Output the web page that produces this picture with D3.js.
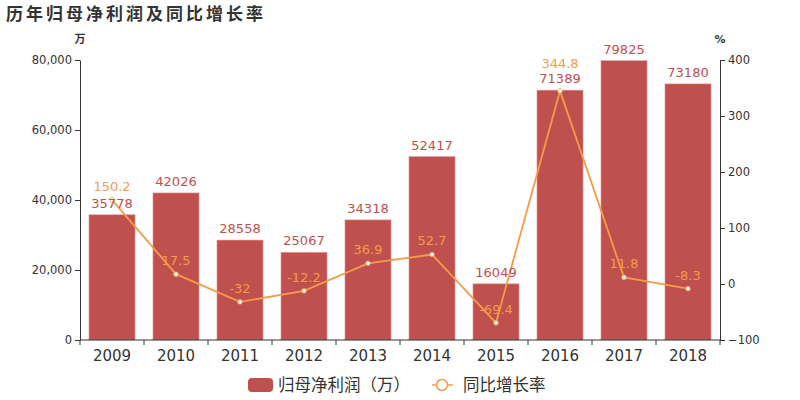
<!DOCTYPE html>
<html><head><meta charset="utf-8">
<script src="https://cdn.jsdelivr.net/npm/d3@7"></script>
<style>body{margin:0;background:#fff}svg{display:block}text{font-family:"DejaVu Sans","Noto Sans CJK SC",sans-serif}</style>
</head><body><svg id="c" width="800" height="400"></svg>
<script>
const years = ["2009","2010","2011","2012","2013","2014","2015","2016","2017","2018"];
const profit = [35778,42026,28558,25067,34318,52417,16049,71389,79825,73180];
const growth = [150.2,17.5,-32,-12.2,36.9,52.7,-69.4,344.8,11.8,-8.3];
const leftTicks = [0,20000,40000,60000,80000];
const rightTicks = [-100,0,100,200,300,400];

const svg = d3.select("#c");
const L=80,R=720,T=60,B=340;
const x = d3.scaleBand().domain(years).range([L,R]).paddingInner(0.28).paddingOuter(0.14);
const yL = d3.scaleLinear().domain([0,80000]).range([B,T]);
const yR = d3.scaleLinear().domain([-100,400]).range([B,T]);
const barColor="#c0504d", lineColor="#f39c4a";

svg.append("text").attr("x",6).attr("y",20).attr("font-size",17).attr("font-weight","bold")
  .attr("fill","#333").attr("font-family","'Noto Sans CJK SC',sans-serif").attr("letter-spacing",3).text("历年归母净利润及同比增长率");
svg.append("text").attr("x",80).attr("y",43).attr("text-anchor","middle").attr("font-size",11).attr("font-weight","bold").attr("fill","#333").attr("font-family","'Noto Sans CJK SC',sans-serif").text("万");
svg.append("text").attr("x",720).attr("y",43).attr("text-anchor","middle").attr("font-size",11).attr("font-weight","bold").attr("fill","#333").text("%");

// bars
svg.selectAll("rect.bar").data(profit).join("rect").attr("class","bar")
  .attr("x",(d,i)=>x(years[i])).attr("width",x.bandwidth())
  .attr("y",d=>yL(d)).attr("height",d=>B-yL(d))
  .attr("fill",barColor).attr("stroke","#e8a0a0").attr("stroke-width",0.6);

// axes
const axL = svg.append("g").attr("transform",`translate(${L},0)`)
  .call(d3.axisLeft(yL).tickValues(leftTicks).tickFormat(d3.format(",")).tickSize(5).tickSizeOuter(0));
const axR = svg.append("g").attr("transform",`translate(${R},0)`)
  .call(d3.axisRight(yR).tickValues(rightTicks).tickSize(5).tickSizeOuter(0));
const xBounds = years.map(y=>x(y)-x.step()*x.paddingInner()/2).concat([R]);
const axX = svg.append("g").attr("transform",`translate(0,${B})`)
  .call(d3.axisBottom(x).tickSize(0).tickPadding(10));
axX.selectAll("line.bd").data(xBounds).join("line").attr("class","bd")
  .attr("x1",d=>d).attr("x2",d=>d).attr("y1",0).attr("y2",5).attr("stroke","#333");
[axL,axR,axX].forEach(a=>{a.selectAll("path,line").attr("stroke","#333");a.selectAll("text").attr("fill","#333").attr("font-family","DejaVu Sans");});
axL.selectAll("text").attr("font-size",11.5);
axR.selectAll("text").attr("font-size",11.5);
axX.selectAll("text").attr("font-size",15);
axX.select("path.domain").attr("d",`M${L},0H${R}`);

// line
const cx = i=>x(years[i])+x.bandwidth()/2;
const line = d3.line().x((d,i)=>cx(i)).y(d=>yR(d));
svg.append("path").datum(growth).attr("d",line).attr("fill","none").attr("stroke",lineColor).attr("stroke-width",1.8);
svg.selectAll("circle.pt").data(growth).join("circle").attr("class","pt")
  .attr("cx",(d,i)=>cx(i)).attr("cy",d=>yR(d)).attr("r",2.3).attr("fill","#fff").attr("stroke",lineColor).attr("stroke-width",0.8);

// labels
svg.selectAll("text.bl").data(profit).join("text").attr("class","bl")
  .attr("x",(d,i)=>cx(i)).attr("y",d=>yL(d)-7).attr("text-anchor","middle")
  .attr("font-size",13).attr("fill",barColor).text(d=>d);
svg.selectAll("text.gl").data(growth).join("text").attr("class","gl")
  .attr("x",(d,i)=>cx(i))
  .attr("y",(d,i)=>{const yy=yR(d)-9, by=yL(profit[i])-7; return Math.abs(yy-by)<14 ? Math.min(yy,by)-14 : yy;})
  .attr("text-anchor","middle")
  .attr("font-size",13).attr("fill",lineColor).text(d=>d);

// legend
const lg = svg.append("g");
lg.append("rect").attr("x",248).attr("y",378).attr("width",25).attr("height",14).attr("rx",4).attr("fill",barColor);
lg.append("text").attr("x",278).attr("y",391).attr("font-size",16.5).attr("fill","#333").attr("font-family","'Noto Sans CJK SC',sans-serif").text("归母净利润（万）");
lg.append("line").attr("x1",432).attr("x2",453).attr("y1",385).attr("y2",385).attr("stroke",lineColor).attr("stroke-width",1.5);
lg.append("circle").attr("cx",442).attr("cy",385).attr("r",5.5).attr("fill","#fff").attr("stroke",lineColor).attr("stroke-width",1.5);
lg.append("text").attr("x",463).attr("y",391).attr("font-size",16.5).attr("fill","#333").attr("font-family","'Noto Sans CJK SC',sans-serif").text("同比增长率");
</script></body></html>
